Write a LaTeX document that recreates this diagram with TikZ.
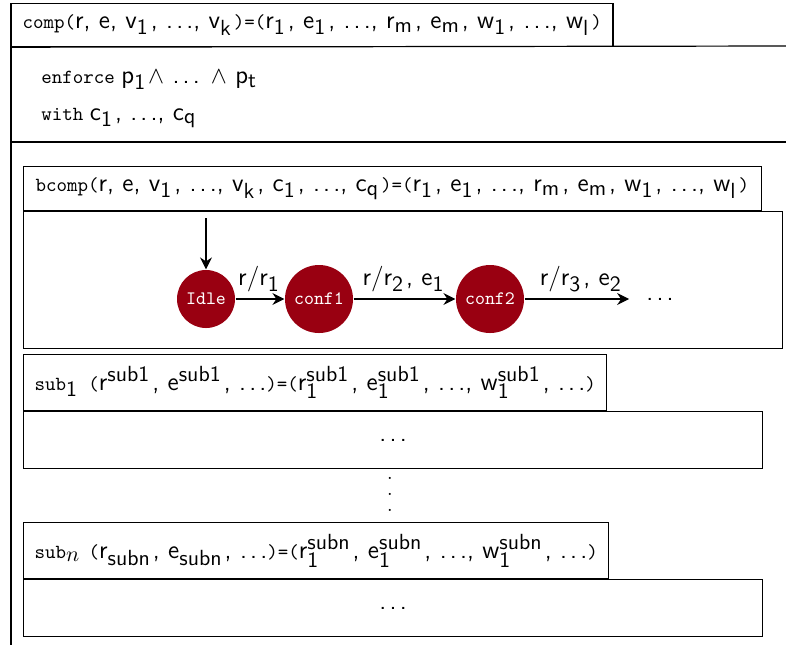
\documentclass[tikz,border=0pt]{standalone}
\usepackage{tikz}
\usetikzlibrary{shapes,arrows,arrows.meta,calc}
\DeclareMathSizes{12.8}{12.8}{10.5}{8}
\definecolor{statered}{HTML}{990011}
\tikzstyle{line} = [draw, -{Stealth[length=6pt, width=6pt, inset=2pt]}]
\tikzstyle{titlebox} = [draw, rectangle, anchor=north west, inner xsep=5.5pt, minimum height=22pt]
\tikzstyle{bodybox} = [draw, rectangle, anchor=north west, minimum width=369.5pt, minimum height=28.5pt]
\tikzstyle{statenode} = [circle, fill=statered, text=white, font=\ttfamily\fontsize{9.5}{11}\selectfont, minimum size=34pt, inner sep=0pt]
\newcommand{\sv}[1]{{\fontsize{12.8}{15}\sffamily #1}}
\newcommand{\lo}[1]{$_{\mathsf{#1}}$\kern1pt}
\newcommand{\hi}[1]{$^{\mathsf{#1}}$\kern1pt}
\newcommand{\lohi}[2]{$_{\mathsf{#1}}^{\mathsf{#2}}$\kern1pt}
\newcommand{\dts}{.\kern1.6pt.\kern1.6pt.}
\newcommand{\vdotsbox}{\vbox{\baselineskip=8pt\lineskiplimit=0pt\hbox{.}\hbox{.}\hbox{.}}}

\begin{document}
\begin{tikzpicture}[x=0.5pt, y=-0.5pt, node distance=56.5pt, auto, semithick]
        \useasboundingbox (0,0) rectangle (786,645);
        % outer component
        \node[titlebox, minimum height=21.5pt] (comp) at (11,3) {\texttt{comp(}\sv{r, e, v\lo{1}, \dts, v\lo{k}}\texttt{)=(}\sv{r\lo{1}, e\lo{1}, \dts, r\lo{m}, e\lo{m}, w\lo{1}, \dts, w\lo{l}}\texttt{)}};
        \node[anchor=base west] (enforce) at (34,83) {\texttt{enforce} \sv{p\lo{1} $\wedge$ \dts{} $\wedge$ p\lo{t}}};
        \node[anchor=base west] (with) at (34,120) {\texttt{with} \sv{c\lo{1}, \dts, c\lo{q}}};
        \draw (comp.north west) -- (11,645);
        \draw (comp.south west) -- (786,46);
        \draw (11,142) -- (786,142);
        % base component
        \node[titlebox, inner xsep=6pt] (bcomp) at (23,166) {\texttt{bcomp(}\sv{r, e, v\lo{1}, \dts, v\lo{k}, c\lo{1}, \dts, c\lo{q}}\texttt{)=(}\sv{r\lo{1}, e\lo{1}, \dts, r\lo{m}, e\lo{m}, w\lo{1}, \dts, w\lo{l}}\texttt{)}};
        \node[bodybox, minimum width=379.5pt, minimum height=68.5pt] (bbody) at (bcomp.south west) {};
        \coordinate (init) at (206,218);
        \node[statenode, minimum size=29pt] (idle) at (206,299) {Idle};
        \node[statenode, right of=idle] (conf1) {conf1};
        \node[statenode, right of=conf1, node distance=85.5pt] (conf2) {conf2};
        \node[right of=conf2, node distance=85pt] (more) {\sv{\dts}};
        \path[line] (init) -- (idle);
        \path[line] (idle) -- node {\sv{r/r\lo{1}}} (conf1);
        \path[line] (conf1) -- node {\sv{r/r\lo{2}, e\lo{1}}} (conf2);
        \path[line, shorten >=5pt] (conf2) -- node {\sv{r/r\lo{3}, e\lo{2}}} (more);
        % sub components
        \node[titlebox, minimum height=28pt] (sub1) at (23,354) {\texttt{sub}\sv{\lo{1}\ }\texttt{(}\sv{r\hi{sub1}, e\hi{sub1}, \dts}\texttt{)=(}\sv{r\lohi{1}{sub1}, e\lohi{1}{sub1}, \dts, w\lohi{1}{sub1}, \dts}\texttt{)}};
        \node[bodybox] (sbody1) at (sub1.south west) {\sv{\dts}};
        \node[inner sep=0pt] (vdots) at (390,494) {\vdotsbox};
        \node[titlebox, minimum height=28pt] (subn) at (23,522) {\texttt{sub}\sv{$_n$\ }\texttt{(}\sv{r\lo{subn}, e\lo{subn}, \dts}\texttt{)=(}\sv{r\lohi{1}{subn}, e\lohi{1}{subn}, \dts, w\lohi{1}{subn}, \dts}\texttt{)}};
        \node[bodybox] (sbodyn) at (subn.south west) {\sv{\dts}};
    \end{tikzpicture}
\end{document}
